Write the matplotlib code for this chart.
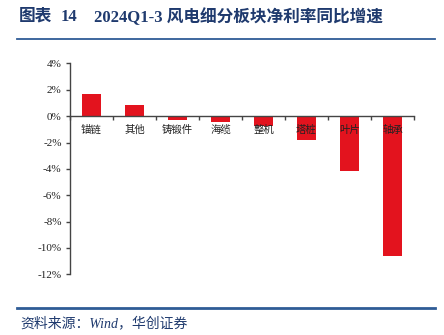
import numpy as np
import matplotlib
matplotlib.use('Agg')
import matplotlib.pyplot as plt

# data
categories = ['锚链', '其他', '铸锻件', '海缆', '整机', '塔桩', '叶片', '轴承']
values = [1.72, 0.82, -0.26, -0.43, -0.75, -1.82, -4.15, -10.6]
yticks = [4, 2, 0, -2, -4, -6, -8, -10, -12]

title_parts = ['图表', '14', '2024Q1-3 风电细分板块净利率同比增速']
source = '资料来源：Wind，华创证券'

serif_cjk = ['Liberation Serif', 'Noto Sans CJK SC']
navy = '#1F3A6E'
red = '#E3131E'

plt.rcParams['axes.unicode_minus'] = False

fig = plt.figure(figsize=(4.44, 3.35), dpi=100)
ax = fig.add_axes([70 / 444, 1 - 274.3 / 335, 344 / 444, (274.3 - 63.5) / 335])

x = np.arange(len(categories))
ax.bar(x, values, width=0.45, color=red, zorder=1)

ax.set_xlim(-0.5, len(categories) - 0.5)
ax.set_ylim(-12, 4)
ax.set_yticks(yticks)
ax.set_yticklabels([f'{v}%' for v in yticks], family='Liberation Serif', fontsize=8, color='#222222')

# x axis drawn at zero, ticks at category boundaries
ax.spines['bottom'].set_position(('data', 0))
ax.spines['top'].set_visible(False)
ax.spines['right'].set_visible(False)
for s in ['left', 'bottom']:
    ax.spines[s].set_color('#444444')
    ax.spines[s].set_linewidth(1.0)
ax.set_xticks(np.arange(len(categories) + 1) - 0.5)
ax.set_xticklabels([])
ax.set_xticks(x, minor=True)
ax.set_xticklabels(categories, minor=True, family='Noto Sans CJK SC', fontsize=7.5, color='#222222')
ax.tick_params(axis='x', which='major', direction='out', length=3, width=1, color='#444444')
ax.tick_params(axis='x', which='minor', length=0, pad=6)
ax.tick_params(axis='y', direction='out', length=3, width=1, color='#444444', pad=3)
ax.xaxis.set_zorder(3)

# title and footer
ty = 1 - 17 / 335
for xpos, part in zip([19, 61, 94], title_parts):
    fig.text(xpos / 444, ty, part, family=serif_cjk, fontsize=12, fontweight='bold',
             color=navy, va='center', ha='left')
fig.add_artist(plt.Line2D([17 / 444, 435 / 444], [1 - 38.7 / 335] * 2, color='#2F5C96', lw=1.3))
fig.add_artist(plt.Line2D([17 / 444, 435 / 444], [1 - 307.5 / 335] * 2, color='#2F5C96', lw=2))
fig.text(20 / 444, 1 - 323 / 335, source, family=serif_cjk, fontsize=10, style='italic',
         color=navy, va='center', ha='left')

fig.savefig('out.png', dpi=100)
